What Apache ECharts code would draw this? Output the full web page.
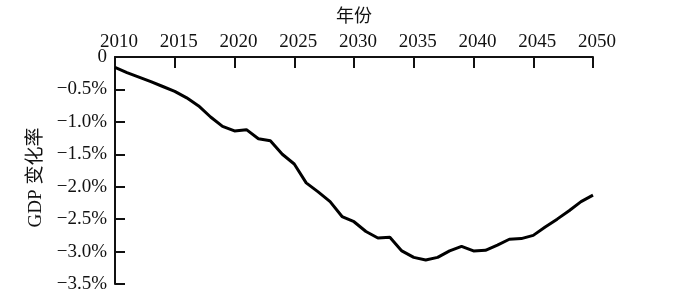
<!DOCTYPE html>
<html>
<head>
<meta charset="utf-8">
<script src="https://cdn.jsdelivr.net/npm/echarts@6/dist/echarts.min.js"></script>
<style>html,body{margin:0;padding:0;background:#fff;}#c{width:680px;height:301px;}</style>
</head>
<body>
<div id="c"></div>
<script>
const years = [2010,2011,2012,2013,2014,2015,2016,2017,2018,2019,2020,2021,2022,2023,2024,2025,2026,2027,2028,2029,2030,2031,2032,2033,2034,2035,2036,2037,2038,2039,2040,2041,2042,2043,2044,2045,2046,2047,2048,2049,2050];
const gdpChange = [-0.16,-0.24,-0.31,-0.38,-0.455,-0.53,-0.63,-0.755,-0.925,-1.07,-1.14,-1.12,-1.26,-1.29,-1.50,-1.65,-1.94,-2.08,-2.23,-2.46,-2.54,-2.69,-2.79,-2.78,-2.99,-3.09,-3.13,-3.09,-2.99,-2.92,-2.99,-2.98,-2.90,-2.81,-2.80,-2.75,-2.62,-2.50,-2.37,-2.23,-2.13];
const xName = '年份';
const yName = 'GDP 变化率';

const serif = '"Liberation Serif","Times New Roman","Noto Sans CJK SC",serif';
const chart = echarts.init(document.getElementById('c'), null, {renderer:'canvas'});
chart.setOption({
  animation:false,
  backgroundColor:'#fff',
  grid:{left:115, top:57, right:87, bottom:17, containLabel:false, outerBoundsMode:'none'},
  xAxis:{
    type:'value', position:'top', min:2010, max:2050, interval:5,
    name:xName, nameLocation:'middle', nameGap:33,
    nameTextStyle:{fontFamily:'"Noto Sans CJK SC",sans-serif', fontSize:18, color:'#111'},
    axisLine:{show:true, onZero:false, lineStyle:{color:'#111', width:2}},
    axisTick:{show:true, inside:true, length:11, lineStyle:{color:'#111', width:2}},
    axisLabel:{fontFamily:serif, fontSize:19, color:'#111', margin:5, padding:[0,0,0,8], formatter:v=>String(v)},
    splitLine:{show:false}
  },
  yAxis:{
    type:'value', min:-3.5, max:0, interval:0.5,
    name:yName, nameLocation:'middle', nameGap:66, nameRotate:90,
    nameTextStyle:{fontFamily:serif, fontSize:19, color:'#111', padding:[0,14,0,0]},
    axisLine:{show:true, onZero:false, lineStyle:{color:'#111', width:2}},
    axisTick:{show:true, inside:true, length:10, lineStyle:{color:'#111', width:2}},
    axisLabel:{fontFamily:serif, fontSize:19, color:'#111', margin:8,
      formatter:v=> v===0 ? '0' : '\u2212' + Math.abs(v).toFixed(1) + '%'},
    splitLine:{show:false}
  },
  series:[{
    type:'line', data:years.map((y,i)=>[y,gdpChange[i]]),
    showSymbol:false, smooth:false,
    lineStyle:{color:'#000', width:3}
  }]
});
</script>
</body>
</html>
